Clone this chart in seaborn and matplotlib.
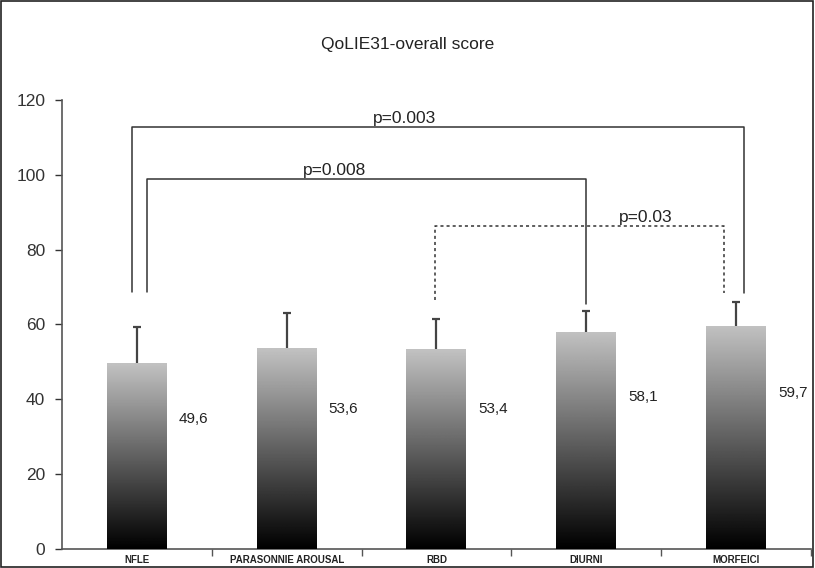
import numpy as np
import pandas as pd
import matplotlib
matplotlib.use("Agg")
import matplotlib.pyplot as plt
from matplotlib.patches import Rectangle
from matplotlib.ticker import FixedLocator
import seaborn as sns

# Chart data
categories = ["NFLE", "PARASONNIE AROUSAL", "RBD", "DIURNI", "MORFEICI"]
means = [49.6, 53.6, 53.4, 58.1, 59.7]
sd = [9.8, 9.5, 8.1, 5.5, 6.2]
value_labels = ["49,6", "53,6", "53,4", "58,1", "59,7"]

# Significance brackets: (left x, right x, bar height, left leg end, right leg end, label, style)
bracket_left = [-0.03, 0.07, 1.99]
bracket_right = [4.05, 3.0, 3.92]
bracket_y = [112.8, 99.0, 86.4]
leg_left_end = [68.7, 68.7, 66.5]
leg_right_end = [68.5, 65.5, 68.5]
bracket_text = ["p=0.003", "p=0.008", "p=0.03"]
bracket_text_x = [1.79, 1.32, 3.4]
bracket_style = ["-", "-", (0, (2, 2))]

df = pd.DataFrame({"group": categories, "score": means})

sns.set_style("white")
plt.rcParams["font.family"] = ["Liberation Sans", "DejaVu Sans"]

fig = plt.figure(figsize=(8.15, 5.68), dpi=100)
ax = fig.add_axes([0.076, 0.0335, 0.919, 0.7905])

sns.barplot(data=df, x="group", y="score", width=0.4, color="#bbbbbb",
            edgecolor="none", ax=ax, zorder=2)

# gradient fill: light gray at top, black at bottom
grad = np.linspace(0.0, 0.76, 256).reshape(-1, 1)
for patch in ax.patches:
    x0, y0 = patch.get_x(), patch.get_y()
    w, h = patch.get_width(), patch.get_height()
    im = ax.imshow(grad, cmap="gray", vmin=0, vmax=1, origin="lower",
                   extent=[x0, x0 + w, y0, y0 + h], aspect="auto", zorder=3)
    im.set_clip_path(patch)
    patch.set_facecolor("none")

# upper error bars only
xs = np.arange(len(categories))
eb = ax.errorbar(xs, means, yerr=[np.zeros(len(sd)), sd], fmt="none",
                 ecolor="#444444", elinewidth=1.6, capsize=2.8, capthick=1.6, zorder=4)
eb[1][0].set_visible(False)

# value labels right of bars
for i, (m, lab) in enumerate(zip(means, value_labels)):
    ax.text(i + 0.28, m * 0.70, lab, fontsize=11, va="center", ha="left", color="#222222")

# brackets
for xl, xr, yb, el, er, txt, tx, ls in zip(bracket_left, bracket_right, bracket_y,
                                            leg_left_end, leg_right_end, bracket_text,
                                            bracket_text_x, bracket_style):
    ax.plot([xl, xl, xr, xr], [el, yb, yb, er], color="#333333", lw=1.1,
            linestyle=ls, zorder=5)
    ax.text(tx, yb + 0.2, txt, fontsize=12.5, ha="center", va="bottom",
            color="#222222", zorder=6)

ax.set_ylim(0, 120)
ax.set_xlim(-0.5, 4.5)
ax.set_yticks(range(0, 121, 20))
ax.tick_params(axis="y", labelsize=12.5, colors="#333333", length=5, width=1,
               direction="out", left=True, pad=7)
ax.tick_params(axis="x", which="major", length=0, labelsize=7, pad=4)
ax.xaxis.set_minor_locator(FixedLocator(np.arange(0.5, 4.6, 1.0)))
ax.tick_params(axis="x", which="minor", length=5, width=1, direction="out",
               bottom=True, color="#555555")
for lbl in ax.get_xticklabels():
    lbl.set_fontweight("bold")
    lbl.set_color("#222222")
ax.set_xlabel("")
ax.set_ylabel("")

sns.despine(ax=ax, top=True, right=True)
for side in ["left", "bottom"]:
    ax.spines[side].set_color("#555555")
    ax.spines[side].set_linewidth(1.2)

fig.text(0.5, 0.921, "QoLIE31-overall score", ha="center", va="center",
         fontsize=12.5, color="#222222")

# outer frame of the chart
fig.patches.append(Rectangle((0.001, 0.001), 0.996, 0.997, transform=fig.transFigure,
                             fill=False, edgecolor="#222222", linewidth=1.2))

fig.savefig("out.png", dpi=100)
